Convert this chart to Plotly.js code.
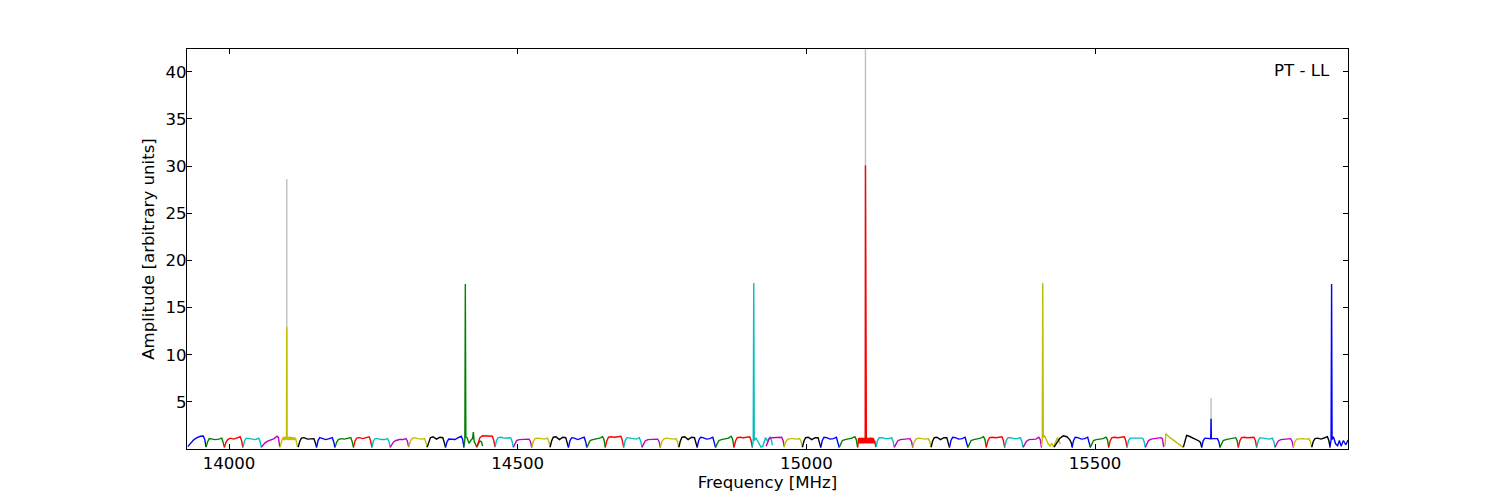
<!DOCTYPE html>
<html>
<head>
<meta charset="utf-8">
<script src="https://cdn.plot.ly/plotly-3.0.1.min.js"></script>
<style>html,body{margin:0;padding:0;background:#fff;}#chart{width:1500px;height:500px;}</style>
</head>
<body>
<div id="chart"></div>
<script>
// ---- data ----
// matplotlib classic colour cycle (b, g, r, c, m, y, k)
const cycleColors = ['#0000ff', '#008000', '#ff0000', '#00bfbf', '#bf00bf', '#bfbf00', '#000000'];

// frequency offsets (MHz) inside one 32 MHz sub-band
const segOffset = [0, 2.5, 5.5, 10, 16, 22, 27, 29.5, 31.8];

// start frequency (MHz) of each sub-band
const segStart = [
  13928.5, 13960.3, 13992.2, 14024.3, 14056.1, 14088.0, 14119.9, 14151.7, 14183.8, 14215.7,
  14247.5, 14279.4, 14311.3, 14343.3, 14375.2, 14407.1, 14429.1, 14460.8, 14492.6, 14524.5,
  14556.2, 14588.1, 14620.0, 14651.8, 14683.7, 14715.4, 14747.3, 14779.2, 14811.0, 14842.9,
  14874.8, 14906.5, 14930.2, 14961.4, 14993.3, 15025.1, 15057.0, 15088.9, 15120.7, 15152.6,
  15184.3, 15216.2, 15248.0, 15279.9, 15311.8, 15343.7, 15375.6, 15407.4, 15429.1, 15460.3,
  15492.0, 15523.7, 15555.5, 15587.2, 15621.3, 15653.1, 15684.9, 15716.6, 15748.3, 15780.2,
  15811.9, 15843.6, 15875.5, 15907.2
];

// amplitude of each regular sub-band at segOffset (null = sub-band listed separately below)
const segAmp = [
  [0.25, 0.45, 0.7, 0.95, 1.2, 1.35, 1.38, 1.0, 0.2],
  [0.2, 0.75, 1.1, 1.05, 1.0, 1.05, 1.15, 0.7, 0.15],
  [0.2, 0.7, 1.0, 1.15, 1.05, 1.2, 1.3, 0.9, 0.15],
  [0.2, 0.85, 1.15, 1.1, 1.0, 1.0, 1.15, 0.8, 0.15],
  [0.2, 0.4, 0.6, 0.8, 0.95, 1.1, 1.35, 1.2, 0.2],
  null,
  [0.2, 0.8, 1.15, 1.2, 1.05, 1.05, 1.1, 0.7, 0.15],
  [0.2, 0.9, 1.2, 1.1, 1.0, 1.1, 1.2, 0.8, 0.15],
  [0.2, 0.7, 1.0, 1.1, 1.05, 1.1, 1.2, 0.8, 0.15],
  [0.2, 0.85, 1.15, 1.2, 1.1, 1.2, 1.3, 0.9, 0.15],
  [0.2, 0.85, 1.1, 1.1, 1.0, 1.0, 1.1, 0.8, 0.15],
  [0.2, 0.5, 0.75, 0.9, 1.0, 1.0, 1.1, 0.85, 0.2],
  [0.2, 0.8, 1.1, 1.2, 1.1, 1.05, 1.1, 0.8, 0.15],
  [0.2, 0.8, 1.2, 1.3, 1.05, 1.25, 1.2, 0.7, 0.15],
  [0.2, 0.8, 1.05, 1.0, 1.0, 1.2, 1.35, 1.0, 0.15],
  null,
  [0.2, 0.7, 1.2, 1.4, 1.4, 1.4, 1.35, 0.9, 0.2],
  [0.2, 0.9, 1.2, 1.25, 1.15, 1.15, 1.2, 0.8, 0.15],
  [0.2, 0.6, 0.9, 1.0, 1.0, 1.0, 1.05, 0.8, 0.15],
  [0.2, 0.8, 1.1, 1.15, 1.1, 1.05, 1.15, 0.8, 0.15],
  [0.2, 0.85, 1.25, 1.3, 1.0, 1.25, 1.2, 0.7, 0.15],
  [0.2, 0.9, 1.2, 1.15, 1.0, 1.1, 1.25, 0.8, 0.15],
  [0.2, 0.6, 0.9, 1.0, 1.05, 1.15, 1.3, 1.0, 0.15],
  [0.2, 0.85, 1.25, 1.3, 1.25, 1.3, 1.35, 0.9, 0.15],
  [0.2, 0.9, 1.2, 1.15, 1.05, 1.05, 1.2, 0.8, 0.15],
  [0.2, 0.55, 0.85, 1.0, 1.0, 1.0, 1.05, 0.8, 0.15],
  [0.2, 0.8, 1.05, 1.15, 1.1, 1.05, 1.1, 0.8, 0.15],
  [0.2, 0.85, 1.25, 1.3, 1.0, 1.25, 1.2, 0.7, 0.15],
  [0.2, 0.9, 1.25, 1.2, 1.05, 1.1, 1.25, 0.8, 0.15],
  [0.2, 0.6, 0.9, 1.0, 1.05, 1.15, 1.35, 1.0, 0.15],
  [0.2, 0.85, 1.2, 1.25, 1.2, 1.25, 1.3, 0.9, 0.15],
  null,
  [0.3, 0.7, 1.1, 1.2, 1.2, 1.2, 1.25, 0.9, 0.2],
  [0.2, 0.7, 1.0, 1.1, 1.1, 1.05, 1.1, 0.8, 0.15],
  [0.2, 0.85, 1.2, 1.25, 1.0, 1.2, 1.2, 0.7, 0.15],
  [0.2, 0.9, 1.25, 1.2, 1.05, 1.1, 1.25, 0.8, 0.15],
  [0.2, 0.6, 0.9, 1.0, 1.05, 1.15, 1.3, 1.0, 0.15],
  null,
  [0.2, 0.9, 1.2, 1.2, 1.1, 1.1, 1.2, 0.8, 0.15],
  [0.2, 0.55, 0.85, 1.0, 1.05, 1.05, 1.1, 0.8, 0.15],
  [0.2, 0.75, 1.05, 1.15, 1.1, 1.05, 1.1, 0.8, 0.15],
  [0.2, 0.85, 1.2, 1.25, 1.0, 1.2, 1.2, 0.7, 0.15],
  [0.2, 0.9, 1.25, 1.2, 1.05, 1.1, 1.25, 0.8, 0.15],
  [0.2, 0.6, 0.9, 1.0, 1.05, 1.15, 1.3, 1.0, 0.15],
  [0.2, 0.85, 1.2, 1.25, 1.2, 1.25, 1.3, 0.9, 0.15],
  [0.2, 0.9, 1.2, 1.2, 1.1, 1.1, 1.2, 0.8, 0.15],
  [0.2, 0.5, 0.8, 1.0, 1.05, 1.05, 1.25, 1.0, 0.15],
  null,
  [0.2, 0.45, 0.8, 1.15, 1.4, 1.3, 1.0, 0.7, 0.15],
  [0.2, 0.9, 1.25, 1.2, 1.05, 1.1, 1.25, 0.8, 0.15],
  [0.2, 0.6, 0.9, 1.0, 1.05, 1.1, 1.25, 1.0, 0.15],
  [0.2, 0.85, 1.2, 1.25, 1.2, 1.25, 1.3, 0.9, 0.15],
  [0.2, 0.9, 1.15, 1.15, 1.1, 1.1, 1.15, 0.8, 0.15],
  [0.2, 0.6, 0.9, 1.05, 1.1, 1.15, 1.2, 1.1, 0.2],
  null,
  [0.2, 0.9, 1.45, 1.35, 1.2, 1.05, 0.85, 0.7, 0.15],
  null,
  [0.2, 0.6, 0.9, 1.0, 1.05, 1.1, 1.2, 0.9, 0.15],
  [0.2, 0.85, 1.2, 1.25, 1.2, 1.2, 1.25, 0.9, 0.15],
  [0.2, 0.9, 1.2, 1.15, 1.05, 1.05, 1.15, 0.8, 0.15],
  [0.2, 0.55, 0.85, 1.0, 1.05, 1.05, 1.1, 0.8, 0.15],
  [0.2, 0.75, 1.05, 1.1, 1.1, 1.05, 1.1, 0.8, 0.15],
  [0.2, 0.8, 1.1, 1.15, 1.05, 1.2, 1.3, 0.9, 0.15],
  null
];

// sub-bands containing spikes / irregular shapes (frequency MHz, amplitude)
const band5Freq  = [14088.3, 14090.9, 14092.5, 14093.2, 14093.9, 14094.6, 14095.3, 14096.0, 14096.7, 14097.4, 14098.1, 14098.8, 14099.5, 14100.0, 14100.5, 14101.2, 14101.9, 14102.6, 14103.3, 14104.0, 14104.7, 14105.4, 14106.1, 14106.8, 14107.5, 14108.2, 14108.9, 14109.6, 14110.3, 14111.0, 14111.7, 14112.4, 14113.1, 14113.8, 14114.5, 14115.2, 14116.2, 14117.2, 14118.7];
const band5Amp   = [0.2, 0.7, 1.1, 0.95, 1.3, 1.0, 1.25, 0.95, 1.3, 1.0, 1.25, 1.0, 1.2, 12.9, 1.0, 1.3, 0.95, 1.25, 1.0, 1.3, 0.95, 1.25, 1.0, 1.3, 0.95, 1.2, 1.0, 1.25, 0.95, 1.2, 1.0, 1.25, 0.95, 1.2, 1.0, 1.15, 0.9, 0.5, 0.2];

const band15Freq = [14407.1, 14408.5, 14409.3, 14410.2, 14412.3, 14415.7, 14419.2, 14421.8, 14423.2, 14424.7, 14427.0, 14429.1, 14432.2, 14434.8, 14437.4, 14439.1];
const band15Amp  = [0.3, 1.0, 17.5, 1.3, 1.2, 0.6, 0.95, 1.1, 1.8, 0.8, 0.5, 0.2, 0.6, 0.85, 0.75, 0.3];

const band31Freq = [14906.5, 14908.0, 14908.9, 14909.7, 14912.9, 14915.5, 14918.6, 14921.5, 14924.5, 14927.2, 14929.3, 14931.9, 14934.5, 14937.1, 14939.7, 14940.9];
const band31Amp  = [0.25, 0.9, 17.6, 0.9, 1.15, 0.9, 0.6, 0.2, 0.3, 0.8, 1.2, 0.9, 1.0, 1.3, 0.9, 0.4];

const band37Freq = [15088.9, 15089.5, 15090.0, 15090.5, 15091.0, 15091.5, 15092.0, 15092.5, 15093.0, 15093.5, 15094.0, 15094.5, 15095.0, 15095.5, 15096.0, 15096.5, 15097.0, 15097.5, 15098.0, 15098.5, 15099.0, 15099.5, 15100.0, 15100.5, 15101.0, 15101.5, 15102.0, 15102.4, 15102.8, 15103.5, 15104.0, 15104.5, 15105.0, 15105.5, 15106.0, 15106.5, 15107.0, 15107.5, 15108.0, 15108.5, 15109.0, 15109.5, 15110.0, 15110.5, 15111.0, 15111.5, 15112.0, 15112.5, 15113.0, 15113.5, 15114.0, 15114.5, 15115.0, 15115.5, 15116.0, 15116.5, 15117.0, 15117.5, 15118.0, 15118.5, 15119.3, 15120.2];
const band37Amp  = [0.2, 1.1, 0.65, 1.15, 0.6, 1.1, 0.65, 1.2, 0.6, 1.1, 0.7, 1.15, 0.6, 1.1, 0.65, 1.2, 0.6, 1.15, 0.65, 1.1, 0.6, 1.15, 0.7, 1.1, 0.6, 1.15, 0.65, 30.1, 0.65, 1.1, 0.6, 1.15, 0.65, 1.1, 0.6, 1.2, 0.65, 1.1, 0.6, 1.15, 0.7, 1.1, 0.6, 1.15, 0.65, 1.2, 0.6, 1.1, 0.65, 1.15, 0.6, 1.1, 0.7, 1.15, 0.6, 1.1, 0.65, 1.05, 0.6, 0.9, 0.5, 0.2];

const band47Freq = [15407.4, 15408.6, 15409.5, 15410.4, 15412.3, 15415.7, 15418.7, 15422.1, 15425.1, 15428.2, 15431.7, 15434.8, 15438.3, 15439.5];
const band47Amp  = [0.3, 1.0, 17.6, 1.2, 1.45, 0.9, 0.55, 0.3, 0.6, 0.22, 0.85, 1.2, 0.8, 0.5];

const band54Freq = [15621.3, 15622.6, 15630.0, 15640.0, 15650.0, 15653.1];
const band54Amp  = [0.35, 1.62, 1.2, 0.75, 0.3, 0.15];

const band56Freq = [15684.9, 15687.4, 15690.4, 15695.0, 15700.5, 15701.0, 15701.5, 15707.0, 15712.0, 15714.4, 15716.7];
const band56Amp  = [0.2, 0.9, 1.15, 1.1, 1.1, 3.2, 1.1, 1.1, 1.1, 0.8, 0.15];

const band63Freq = [15907.2, 15908.9, 15909.8, 15910.6, 15912.9, 15916.7, 15920.1, 15923.3, 15926.2, 15930.2, 15934.4, 15938.3, 15941.8];
const band63Amp  = [0.3, 1.0, 17.5, 1.0, 1.3, 0.55, 0.35, 0.9, 0.3, 0.9, 0.45, 0.95, 0.6];

const specialBands = {5: [band5Freq, band5Amp], 15: [band15Freq, band15Amp], 31: [band31Freq, band31Amp],
  37: [band37Freq, band37Amp], 47: [band47Freq, band47Amp], 54: [band54Freq, band54Amp],
  56: [band56Freq, band56Amp], 63: [band63Freq, band63Amp]};

// second (grey) spectrum, visible only where it rises above the coloured one
const greyFreq = [14100.0, 15102.4, 15701.0];
const greyPeak = [28.6, 48.0, 5.4];
const greyBase = [1.0, 1.0, 1.0];

const xTicks = [14000, 14500, 15000, 15500];
const yTicks = [5, 10, 15, 20, 25, 30, 35, 40];

// ---- build traces ----
const traces = [];
const gx = [], gy = [];
greyFreq.forEach((f, i) => { gx.push(f, f, null); gy.push(greyBase[i], greyPeak[i], null); });
traces.push({x: gx, y: gy, mode: 'lines', line: {color: '#bfbfbf', width: 1.4}, hoverinfo: 'skip', showlegend: false});

segStart.forEach((s, i) => {
  let xs, ys;
  if (specialBands[i]) { xs = specialBands[i][0]; ys = specialBands[i][1]; }
  else { xs = segOffset.map(o => s + o); ys = segAmp[i]; }
  traces.push({x: xs, y: ys, mode: 'lines', line: {color: cycleColors[i % 7], width: 1.4},
    hoverinfo: 'skip', showlegend: false});
});

const font = {family: 'DejaVu Sans, sans-serif', size: 16.6, color: '#000'};
const axisCommon = {showline: true, linecolor: '#000', linewidth: 1, mirror: 'ticks', ticks: 'inside',
  ticklen: 5, tickwidth: 1, tickcolor: '#000', showgrid: false, zeroline: false, tickfont: font};

const layout = {
  width: 1500, height: 500,
  margin: {l: 187, r: 152, t: 49, b: 51},
  paper_bgcolor: '#fff', plot_bgcolor: '#fff',
  font: font,
  showlegend: false,
  xaxis: Object.assign({}, axisCommon, {range: [13927.2, 15938.2], tickvals: xTicks, ticklabelstandoff: -1,
    ticktext: xTicks.map(String), title: {text: 'Frequency [MHz]', font: font, standoff: 1}}),
  yaxis: Object.assign({}, axisCommon, {range: [0, 42.42], tickvals: yTicks, ticklabelstandoff: -4,
    ticktext: yTicks.map(String), title: {text: 'Amplitude [arbitrary units]', font: font, standoff: 6}}),
  annotations: [{text: 'PT - LL', xref: 'paper', yref: 'paper', x: 0.986, y: 0.946,
    xanchor: 'right', yanchor: 'middle', showarrow: false, font: font}]
};

Plotly.newPlot('chart', traces, layout, {displayModeBar: false, staticPlot: true});
</script>
</body>
</html>
